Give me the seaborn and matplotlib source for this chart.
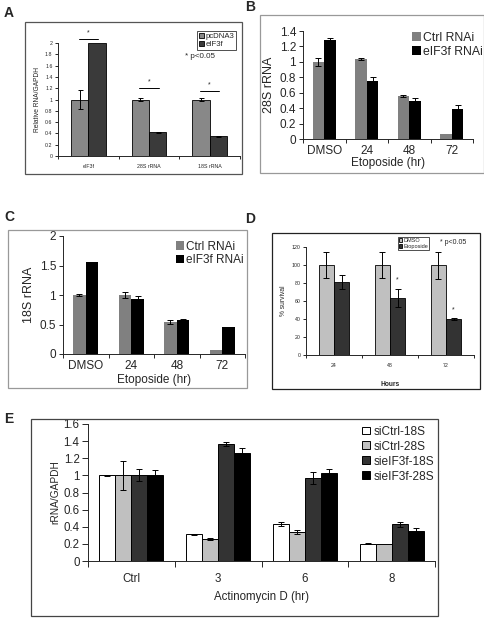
import numpy as np
import pandas as pd
import matplotlib
matplotlib.use("Agg")
import matplotlib.pyplot as plt
from matplotlib.patches import Rectangle
from matplotlib.ticker import FuncFormatter
import seaborn as sns

# ---- data ----
a_cats = ["eIF3f", "28S rRNA", "18S rRNA"]
a_pcdna3 = [1.0, 1.0, 1.0]
a_pcdna3_err = [0.16, 0.03, 0.02]
a_eif3f = [2.0, 0.42, 0.35]
a_eif3f_err = [0.0, 0.01, 0.005]
a_sig_y = [2.07, 1.2, 1.15]

etop_cats = ["DMSO", "24", "48", "72"]
b_ctrl = [1.0, 1.04, 0.56, 0.06]
b_ctrl_err = [0.05, 0.015, 0.015, 0.0]
b_eif3f = [1.28, 0.75, 0.49, 0.39]
b_eif3f_err = [0.025, 0.05, 0.045, 0.05]

c_ctrl = [1.0, 1.0, 0.54, 0.06]
c_ctrl_err = [0.01, 0.05, 0.03, 0.0]
c_eif3f = [1.56, 0.94, 0.58, 0.46]
c_eif3f_err = [0.0, 0.04, 0.02, 0.005]

d_cats = ["24", "48", "72"]
d_dmso = [100, 100, 100]
d_dmso_err = [14, 14, 15]
d_etop = [81, 63, 40]
d_etop_err = [8, 10, 1]
d_sig_y = [None, 80, 46]

e_cats = ["Ctrl", "3", "6", "8"]
e_series = ["siCtrl-18S", "siCtrl-28S", "sieIF3f-18S", "sieIF3f-28S"]
e_ctrl18 = [1.0, 0.31, 0.43, 0.2]
e_ctrl28 = [1.0, 0.26, 0.34, 0.2]
e_eif18 = [1.0, 1.37, 0.97, 0.43]
e_eif28 = [1.0, 1.26, 1.03, 0.35]
e_ctrl18_err = [0.01, 0.01, 0.025, 0.005]
e_ctrl28_err = [0.17, 0.01, 0.02, 0.0]
e_eif18_err = [0.07, 0.025, 0.07, 0.03]
e_eif28_err = [0.06, 0.06, 0.04, 0.03]

sns.set_theme(style="ticks")
plt.rcParams["font.family"] = ["Liberation Sans", "DejaVu Sans"]
plt.rcParams["axes.linewidth"] = 0.7

W, H = 484, 619
fig = plt.figure(figsize=(W / 100, H / 100), dpi=100)
fig.patch.set_facecolor("white")


def rect(l, t, r, b):
    return [l / W, 1 - b / H, (r - l) / W, (b - t) / H]


def frame(l, t, r, b, color):
    fig.add_artist(Rectangle((l / W, 1 - b / H), (r - l) / W, (b - t) / H,
                             transform=fig.transFigure, fill=False,
                             edgecolor=color, lw=0.9))


def long_df(cats, series):
    rows = []
    for name, vals in series:
        for c, v in zip(cats, vals):
            rows.append({"cat": c, "val": v, "series": name})
    return pd.DataFrame(rows)


def add_err(ax, errs, cap=2):
    conts = list(ax.containers)
    for cont, e in zip(conts, errs):
        for bar, v in zip(cont, e):
            if v > 0:
                ax.errorbar(bar.get_x() + bar.get_width() / 2, bar.get_height(),
                            yerr=v, fmt="none", ecolor="black", elinewidth=0.7,
                            capsize=cap, capthick=0.7)


def excel_axes(ax, ncat, fs, ticklen=3, xpad=4):
    ax.set_xlim(-0.5, ncat - 0.5)
    ax.set_xticks(np.arange(-0.5, ncat), minor=True)
    ax.tick_params(axis="x", which="major", length=0, labelsize=fs, pad=xpad)
    ax.tick_params(axis="x", which="minor", length=ticklen, width=0.7)
    ax.tick_params(axis="y", length=ticklen, width=0.7, labelsize=fs, pad=2)
    ax.yaxis.set_major_formatter(FuncFormatter(lambda v, _: f"{v:g}"))
    ax.set_facecolor("white")
    sns.despine(ax=ax)


# ---- panel A ----
frame(25, 22, 242, 174, "#555555")
ax = fig.add_axes(rect(58, 43, 240, 156))
df = long_df(a_cats, [("pcDNA3", a_pcdna3), ("eIF3f", a_eif3f)])
sns.barplot(data=df, x="cat", y="val", hue="series", palette=["#888888", "#3a3a3a"],
            width=0.57, errorbar=None, edgecolor="black", linewidth=0.6, ax=ax)
add_err(ax, [a_pcdna3_err, a_eif3f_err], cap=1.8)
ax.set_ylim(0, 2)
ax.set_yticks(np.arange(0, 2.01, 0.2))
excel_axes(ax, 3, 3.8, ticklen=2, xpad=6)
ax.set_xlabel("")
ax.set_ylabel("Relative RNA/GAPDH", fontsize=4.8, labelpad=3)
for i, y in enumerate(a_sig_y):
    ax.plot([i - 0.16, i + 0.16], [y, y], color="black", lw=0.7, clip_on=False)
    ax.text(i, y + 0.05, "*", ha="center", va="bottom", fontsize=5)
ax.legend(loc="upper right", bbox_to_anchor=(1.0, 1.14), fontsize=5.6, frameon=True,
          fancybox=False, edgecolor="black", handlelength=0.7, handleheight=0.7,
          handletextpad=0.2, borderpad=0.2, labelspacing=0.1).get_frame().set_linewidth(0.6)
ax.text(0.70, 0.88, "* p<0.05", transform=ax.transAxes, fontsize=5.8, va="center")

# ---- panel B ----
frame(260, 15, 484, 173, "#999999")
ax = fig.add_axes(rect(303, 31, 473, 139))
df = long_df(etop_cats, [("Ctrl RNAi", b_ctrl), ("eIF3f RNAi", b_eif3f)])
sns.barplot(data=df, x="cat", y="val", hue="series", palette=["#808080", "#000000"],
            width=0.55, errorbar=None, linewidth=0, ax=ax)
add_err(ax, [b_ctrl_err, b_eif3f_err])
ax.set_ylim(0, 1.4)
ax.set_yticks(np.arange(0, 1.41, 0.2))
excel_axes(ax, 4, 8.5)
ax.set_xlabel("Etoposide (hr)", fontsize=8.5, labelpad=0)
ax.set_ylabel("28S rRNA", fontsize=9, labelpad=3)
ax.legend(loc="upper left", bbox_to_anchor=(0.6, 1.06), fontsize=8.8, frameon=False,
          handlelength=0.7, handleheight=0.7, handletextpad=0.2, labelspacing=0.15,
          borderpad=0.1)

# ---- panel C ----
frame(8, 230, 247, 388, "#999999")
ax = fig.add_axes(rect(63, 236, 245, 354))
df = long_df(etop_cats, [("Ctrl RNAi", c_ctrl), ("eIF3f RNAi", c_eif3f)])
sns.barplot(data=df, x="cat", y="val", hue="series", palette=["#808080", "#000000"],
            width=0.55, errorbar=None, linewidth=0, ax=ax)
add_err(ax, [c_ctrl_err, c_eif3f_err])
ax.set_ylim(0, 2)
ax.set_yticks(np.arange(0, 2.01, 0.5))
excel_axes(ax, 4, 8.5)
ax.set_xlabel("Etoposide (hr)", fontsize=8.5, labelpad=2)
ax.set_ylabel("18S rRNA", fontsize=9, labelpad=3)
ax.legend(loc="upper left", bbox_to_anchor=(0.58, 1.02), fontsize=8.5, frameon=False,
          handlelength=0.7, handleheight=0.7, handletextpad=0.2, labelspacing=0.15,
          borderpad=0.1)

# ---- panel D ----
frame(272, 233, 480, 389, "#222222")
ax = fig.add_axes(rect(306, 247, 474, 355))
df = long_df(d_cats, [("DMSO", d_dmso), ("Etoposide", d_etop)])
sns.barplot(data=df, x="cat", y="val", hue="series", palette=["#c0c0c0", "#333333"],
            width=0.55, errorbar=None, edgecolor="black", linewidth=0.6, ax=ax)
add_err(ax, [d_dmso_err, d_etop_err], cap=2)
ax.set_ylim(0, 120)
ax.set_yticks(np.arange(0, 121, 20))
excel_axes(ax, 3, 3.8, ticklen=2, xpad=6)
ax.set_xlabel("Hours", fontsize=4.8, fontweight="bold", labelpad=9)
ax.set_ylabel("% survival", fontsize=4.8, labelpad=3)
conts = list(ax.containers)
for bar, y in zip(conts[1], d_sig_y):
    if y is not None:
        ax.text(bar.get_x() + bar.get_width() / 2, y, "*", ha="center", va="bottom", fontsize=5)
ax.legend(loc="upper left", bbox_to_anchor=(0.53, 1.12), fontsize=4, frameon=True,
          fancybox=False, edgecolor="black", handlelength=0.6, handleheight=0.6,
          handletextpad=0.2, borderpad=0.2, labelspacing=0.15).get_frame().set_linewidth(0.6)
ax.text(0.80, 1.04, "* p<0.05", transform=ax.transAxes, fontsize=5, va="center")

# ---- panel E ----
frame(31, 419, 438, 616, "#444444")
ax = fig.add_axes(rect(88, 424, 435, 561))
df = long_df(e_cats, list(zip(e_series, [e_ctrl18, e_ctrl28, e_eif18, e_eif28])))
sns.barplot(data=df, x="cat", y="val", hue="series",
            palette=["#ffffff", "#c0c0c0", "#333333", "#000000"],
            width=0.74, errorbar=None, edgecolor="black", linewidth=0.7, ax=ax)
add_err(ax, [e_ctrl18_err, e_ctrl28_err, e_eif18_err, e_eif28_err], cap=2.5)
ax.set_ylim(0, 1.6)
ax.set_yticks(np.arange(0, 1.61, 0.2))
excel_axes(ax, 4, 8.3, ticklen=4, xpad=9)
ax.set_xlabel("Actinomycin D (hr)", fontsize=8.3, labelpad=4)
ax.set_ylabel("rRNA/GAPDH", fontsize=7.3, labelpad=2)
ax.legend(loc="upper left", bbox_to_anchor=(0.77, 1.04), fontsize=8.6, frameon=False,
          handlelength=0.65, handleheight=0.65, handletextpad=0.3, labelspacing=0.25,
          borderpad=0.1)

# panel letters
for lab, x, y in [("A", 4, 13), ("B", 245, 7), ("C", 4, 217), ("D", 245, 219), ("E", 4, 419)]:
    fig.text(x / W, 1 - y / H, lab, fontsize=10, fontweight="bold", va="center", ha="left")

fig.savefig("out.png", dpi=100)
